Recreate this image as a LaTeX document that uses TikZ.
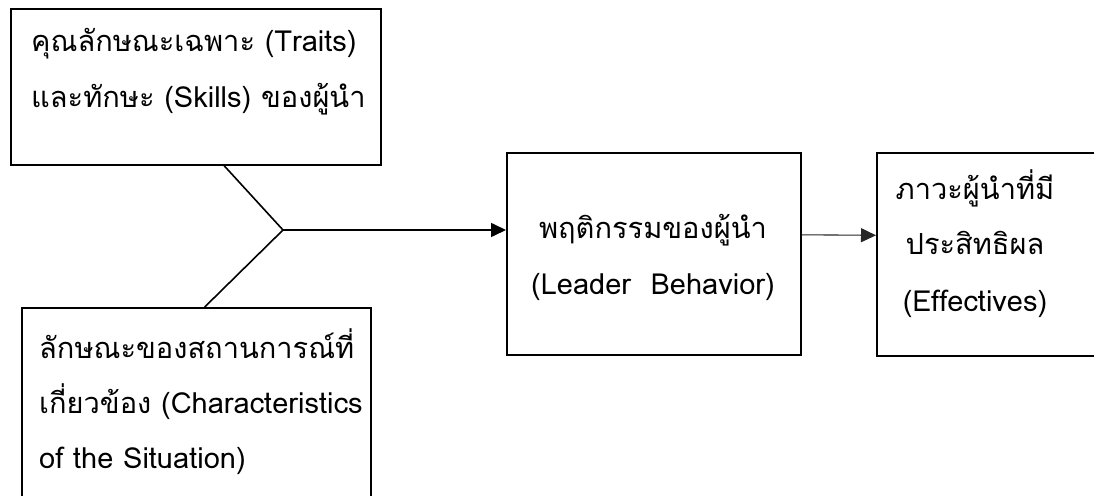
\documentclass[tikz,border=0pt]{standalone}
\usepackage{fontspec}
\newfontfamily\thaifont[Script=Thai]{Loma}
\usetikzlibrary{arrows.meta,positioning,calc}

\begin{document}
\begin{tikzpicture}[x=1pt,y=-1pt,
  box/.style={draw,line width=1.6pt,anchor=north west,inner sep=0pt},
  txt/.style={font=\thaifont\fontsize{29}{47}\selectfont,inner sep=0pt},
  arr/.style={-{Triangle[length=15pt,width=14pt]},line width=1.6pt},
]
\useasboundingbox (0,0) rectangle (1094,495);
\clip (0,0) rectangle (1094,495);
% boxes
\node[box,minimum width=370pt,minimum height=156pt] (traits) at (10,8) {};
\node[box,minimum width=349pt,minimum height=230pt] (situation) at (21,307) {};
\node[box,minimum width=294pt,minimum height=202pt] (leader) at (506,152) {};
\node[box,minimum width=260pt,minimum height=203pt] (effect) at (876,152) {};
% texts
\node[txt,align=left,anchor=west] (traitstext) at (31,72) {คุณลักษณะเฉพาะ (Traits)\\[9pt]และทักษะ (Skills) ของผู้นำ};
\node[txt,align=left,anchor=west] (situationtext) at (39,402) {ลักษณะของสถานการณ์ที่\\[8pt]เกี่ยวข้อง (Characteristics\\[8pt]of the Situation)};
\node[txt,align=center] (leadertext) at (653,257) {พฤติกรรมของผู้นำ\\[9pt](Leader\ \ Behavior)};
\node[txt,align=center] (effecttext) at (975,244) {ภาวะผู้นำที่มี\\[8pt]ประสิทธิผล\\[10pt](Effectives)};
% connectors
\coordinate (join) at (283,230);
\draw[line width=1.6pt] ($(traits.south west)!0.576!(traits.south east)$) -- (join);
\draw[line width=1.6pt] ($(situation.north west)!0.524!(situation.north east)$) -- (join);
\draw[arr] (join) -- (join -| leader.west);
\draw[arr,line width=1.1pt,black!85] ($(leader.east)+(0,-19)$) -- ($(effect.west)+(0,-19)$);
\end{tikzpicture}
\end{document}
